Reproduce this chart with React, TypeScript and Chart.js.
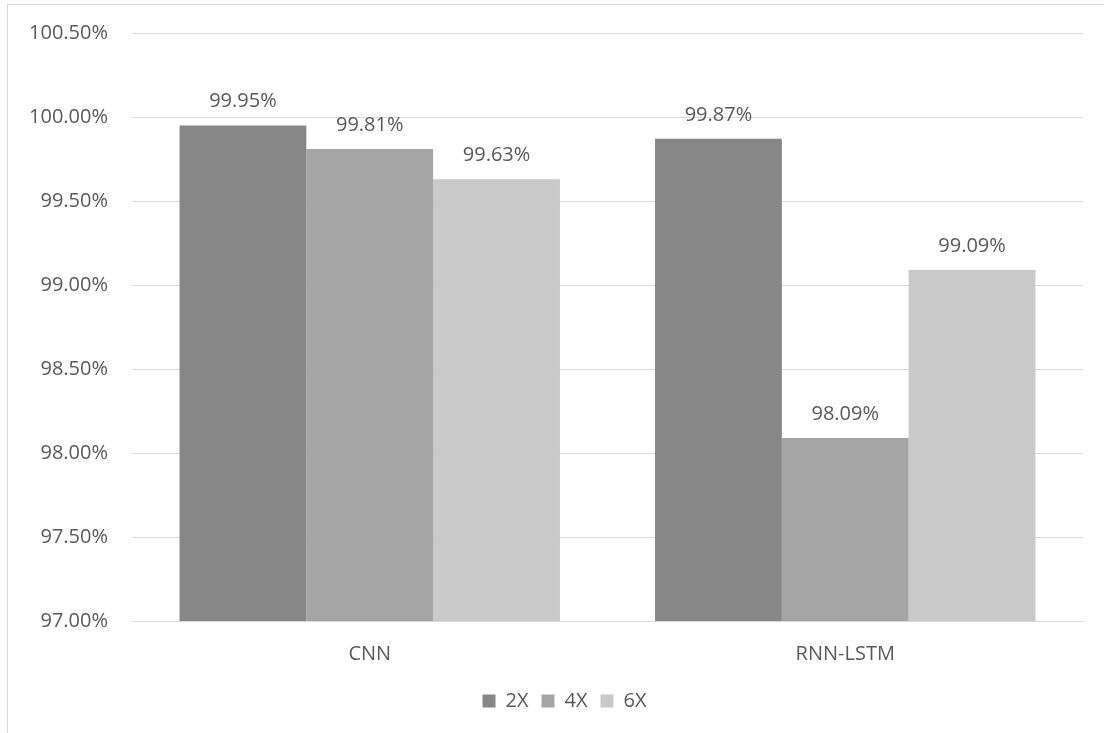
import React, { useEffect, useRef } from "react";
import { Chart, registerables } from "chart.js";

Chart.register(...registerables);

const categories = ["CNN", "RNN-LSTM"];
const seriesNames = ["2X", "4X", "6X"];
const values2X = [99.95, 99.87];
const values4X = [99.81, 98.09];
const values6X = [99.63, 99.09];
const seriesColors = ["#878787", "#a5a5a5", "#c9c9c9"];

const FONT = "'Open Sans', 'Liberation Sans', sans-serif";
const TEXT = "#595959";
const FS = 20;

const dataLabelPlugin = {
  id: "dataLabels",
  afterLayout(chart: any) {
    // the original chart frame is wider than the visible crop; centre legend in it
    if (chart.legend) {
      chart.legend.left += 23;
      chart.legend.right += 23;
    }
  },
  afterDatasetsDraw(chart: any) {
    const ctx = chart.ctx;
    ctx.save();
    ctx.font = `${FS}px ${FONT}`;
    ctx.fillStyle = TEXT;
    ctx.textAlign = "center";
    ctx.textBaseline = "middle";
    chart.data.datasets.forEach((ds: any, i: number) => {
      const meta = chart.getDatasetMeta(i);
      meta.data.forEach((bar: any, j: number) => {
        const v = ds.data[j] as number;
        ctx.fillText(v.toFixed(2) + "%", bar.x, bar.y - 24);
      });
    });
    ctx.restore();
  },
};

export default function App() {
  const ref = useRef<HTMLCanvasElement>(null);
  useEffect(() => {
    if (!ref.current) return;
    const seriesValues = [values2X, values4X, values6X];
    const chart = new Chart(ref.current, {
      type: "bar",
      data: {
        labels: categories,
        datasets: seriesNames.map((name, i) => ({
          label: name,
          data: seriesValues[i],
          backgroundColor: seriesColors[i],
          borderWidth: 0,
          categoryPercentage: 0.8,
          barPercentage: 1.0,
        })),
      },
      options: {
        animation: false,
        responsive: false,
        devicePixelRatio: 1,
        layout: { padding: { top: 33, right: 21, bottom: 12, left: 0 } },
        plugins: {
          legend: {
            position: "bottom",
            labels: {
              boxWidth: 13,
              boxHeight: 13,
              padding: 13,
              color: TEXT,
              font: { family: FONT, size: FS },
            },
          },
          tooltip: { enabled: false },
        },
        scales: {
          x: {
            grid: { display: false, drawTicks: false },
            border: { color: "#d9d9d9" },
            ticks: { color: TEXT, font: { family: FONT, size: FS }, padding: 21 },
            afterFit: (scale: any) => {
              scale.height = 57;
              scale.paddingLeft = 0;
              scale.paddingRight = 0;
            },
          },
          y: {
            min: 97,
            max: 100.5,
            grid: { color: "#d9d9d9", drawTicks: false },
            border: { display: false },
            ticks: {
              stepSize: 0.5,
              padding: 24,
              color: TEXT,
              font: { family: FONT, size: FS },
              callback: (v: any) => Number(v).toFixed(2) + "%",
            },
            afterFit: (scale: any) => {
              scale.width = 132;
              scale.paddingTop = 0;
              scale.paddingBottom = 0;
            },
          },
        },
      },
      plugins: [dataLabelPlugin],
    });
    return () => chart.destroy();
  }, []);

  return (
    <div style={{ position: "fixed", left: 0, top: 0, width: 1104, height: 733, background: "#fff", overflow: "hidden" }}>
      <div
        style={{
          position: "absolute",
          left: 7,
          top: 4,
          width: 1200,
          height: 800,
          border: "1px solid #d9d9d9",
        }}
      />
      <canvas ref={ref} width={1104} height={733} style={{ position: "absolute", left: 0, top: 0 }} />
    </div>
  );
}
